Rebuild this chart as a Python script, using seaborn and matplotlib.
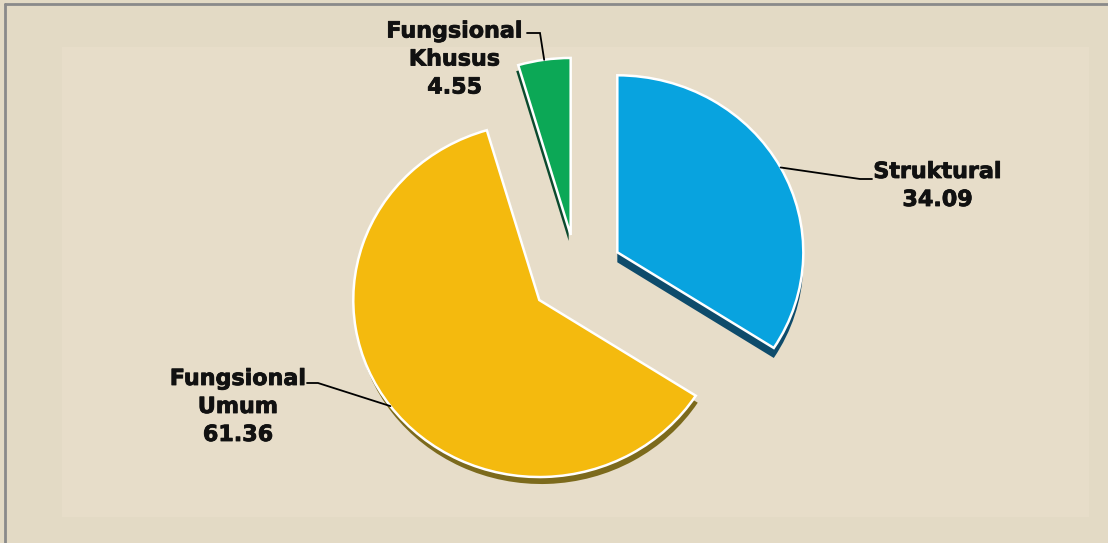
import numpy as np
import matplotlib
matplotlib.use("Agg")
import matplotlib.pyplot as plt
import matplotlib.patheffects as pe
from matplotlib.patches import Rectangle
from matplotlib.lines import Line2D
from matplotlib.transforms import Affine2D
import seaborn as sns

# Data
categories = ["Struktural", "Fungsional\nUmum", "Fungsional\nKhusus"]
values = [34.09, 61.36, 4.55]
face_colors = ["#08A3DF", "#F4BA0E", "#0CA856"]
side_colors = ["#0E4B6B", "#7C6A1C", "#0B4A2E"]

# Layout (pixels on the 1108 x 543 canvas)
W, H = 1108, 543
CX, CY = 576.5, 273.5          # pie centre
RX, RY = 186.0, 177.0          # horizontal / vertical radius (tilted pie)
explode = [0.25, 0.25, 0.22]
side_shift = [(0, 10), (2, 7), (-2, 6)]        # depth of each slice (px right, px down)
label_xy = [(937.5, 186), (238, 407), (454.5, 59.5)]
leader_elbow = [((860, 179), (872, 179)),
                ((318, 383), (307, 383)),
                ((540, 33), (527, 33))]


def px(x, y):
    """Canvas pixels -> data units of the pie axes."""
    return (x - CX) / RX, (CY - y) / RY


sns.set_style("white")
plt.rcParams["font.family"] = ["DejaVu Sans"]

fig = plt.figure(figsize=(W / 100, H / 100), dpi=100, facecolor="#E3DAC5")

# inner plot area
fig.patches.append(Rectangle((62 / W, 1 - 517 / H), (1089 - 62) / W, (517 - 47) / H,
                             transform=fig.transFigure, facecolor="#E7DDC9",
                             edgecolor="none", zorder=-5))
# chart border (top and left)
fig.add_artist(Line2D([5 / W, 5 / W], [0, 1 - 4 / H], transform=fig.transFigure,
                      color="#8A8A8A", lw=2, zorder=-4))
fig.add_artist(Line2D([5 / W, 1], [1 - 4 / H, 1 - 4 / H], transform=fig.transFigure,
                      color="#8A8A8A", lw=2, zorder=-4))

ax = fig.add_axes([0, 0, 1, 1])
ax.patch.set_alpha(0)

# side faces of the slices
side_wedges, _ = ax.pie(values, explode=explode, colors=side_colors, startangle=90,
                        counterclock=False, frame=True,
                        wedgeprops=dict(edgecolor="none", linewidth=0))
# top faces
wedges, _ = ax.pie(values, explode=explode, colors=face_colors, startangle=90,
                   counterclock=False, frame=True,
                   wedgeprops=dict(edgecolor="white", linewidth=1.8))

for w, (sx, sy) in zip(side_wedges, side_shift):
    w.set_transform(Affine2D().translate(sx / RX, -sy / RY) + ax.transData)
    w.set_zorder(1)
for w in wedges:
    w.set_zorder(2)

ax.set_aspect("auto")
ax.set_xlim(-CX / RX, (W - CX) / RX)
ax.set_ylim(-(H - CY) / RY, CY / RY)
ax.axis("off")

# data labels with leader lines
heavy = [pe.withStroke(linewidth=0.6, foreground="#111111")]
for w, name, val, (lx, ly), (elb, end) in zip(wedges, categories, values,
                                               label_xy, leader_elbow):
    mid = np.deg2rad((w.theta1 + w.theta2) / 2)
    cx, cy = w.center
    ax_x = cx + w.r * np.cos(mid)
    ax_y = cy + w.r * np.sin(mid)
    ex, ey = px(*elb)
    tx, ty = px(*end)
    ax.plot([ax_x, ex, tx], [ax_y, ey, ty], color="black", lw=1.3, zorder=3,
            solid_joinstyle="miter")
    x, y = px(lx, ly)
    ax.text(x, y, f"{name}\n{val:.2f}", ha="center", va="center",
            multialignment="center", fontsize=16, fontweight="bold",
            color="#111111", linespacing=1.5, zorder=4, path_effects=heavy)

fig.savefig("out.png", dpi=100, facecolor=fig.get_facecolor())
